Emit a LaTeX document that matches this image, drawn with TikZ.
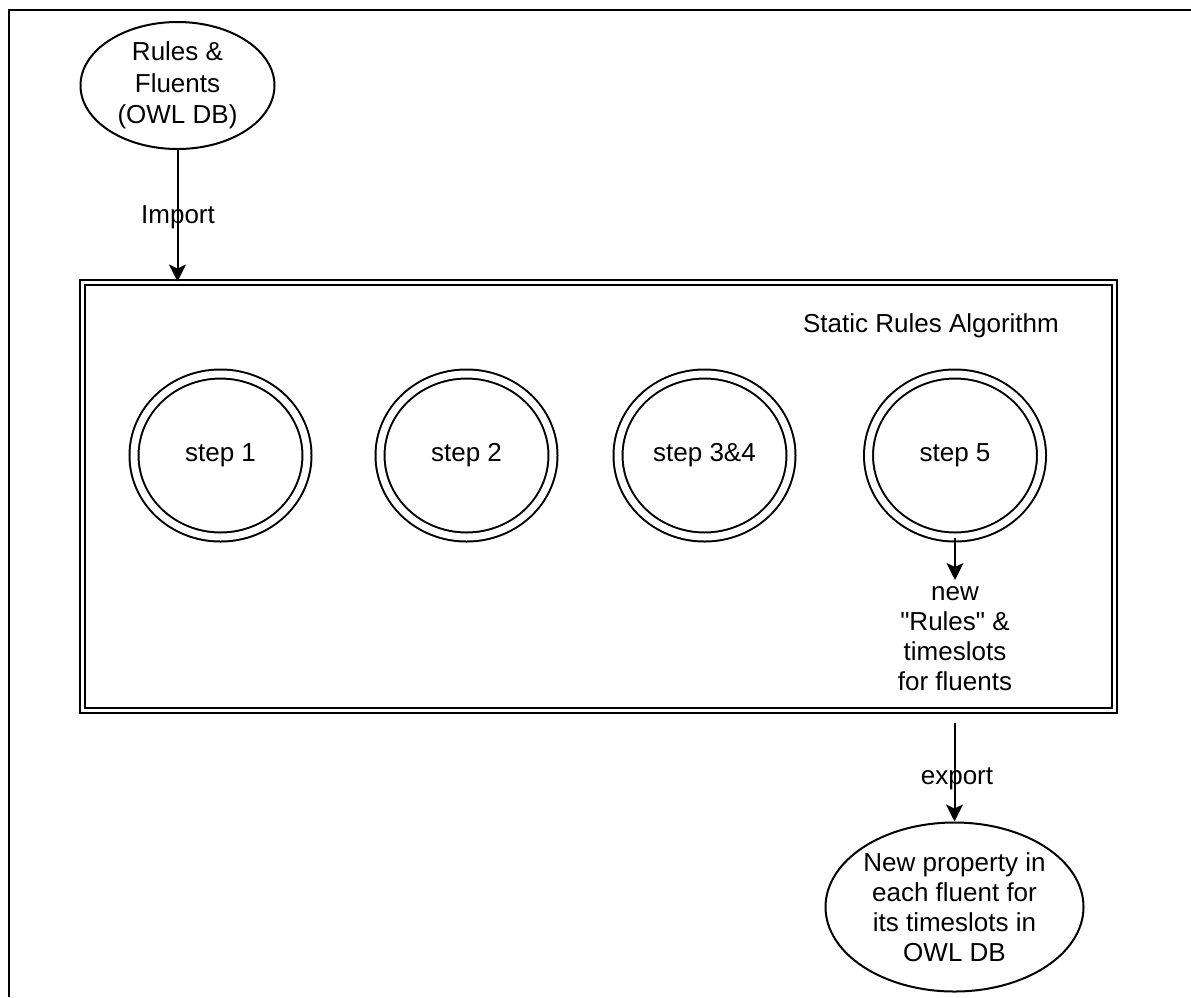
\documentclass[tikz,border=0pt]{standalone}
\usepackage{fontspec}
\setmainfont{Liberation Sans}
\newfontfamily\rawsans{Liberation Sans}
\usetikzlibrary{arrows.meta,shapes.geometric}
\begin{document}
\begin{tikzpicture}[x=1pt,y=-1pt, line width=2pt,
  lbl/.style={font=\fontsize{26}{30}\selectfont, align=center, inner sep=0pt},
  oval/.style={ellipse, draw, lbl},
  stepnode/.style={ellipse, draw, double, double distance=7pt, minimum width=173pt, minimum height=163pt, lbl},
  arr/.style={-{Stealth[length=17pt,width=17pt,inset=4pt]}}]
\useasboundingbox (0,0) rectangle (1191,997);
\draw (1191,10) -- (9,10) -- (9,997);
\node[oval, minimum width=194pt, minimum height=127pt, font=\fontsize{26}{31.5}\selectfont] (src) at (177.5,85.5) {Rules \&\\Fluents\\(OWL DB)};
\node[draw, double, double distance=3pt, minimum width=1032pt, minimum height=428pt, inner sep=0pt] (alg) at (598.5,496.5) {};
\node[lbl] (algtitle) at (931,326) {Static Rules Algorithm};
\node[stepnode] (s1) at (220.5,455.5) {step 1};
\node[stepnode] (s2) at (466.5,455.5) {step 2};
\node[stepnode] (s34) at (704.5,455.5) {step 3\&4};
\node[stepnode] (s5) at (955,455.5) {step 5};
\coordinate (s5end) at (955,580);
\node[lbl] (newtxt) at (955,639) {new\\{\rawsans"Rules"} \&\\timeslots\\for fluents};
\node[oval, minimum width=258pt, minimum height=169pt] (dst) at (954.5,907) {New property in\\each fluent for\\its timeslots in\\OWL DB};
\coordinate (expstart) at (954.5,723);
\draw[arr] (src.south) -- (src.south |- alg.north);
\node[lbl] (imp) at (178,217) {Import};
\draw[arr] (s5.south) -- (s5end);
\draw[arr] (expstart) -- (dst.north);
\node[lbl] (exp) at (957,779) {export};
\end{tikzpicture}
\end{document}
